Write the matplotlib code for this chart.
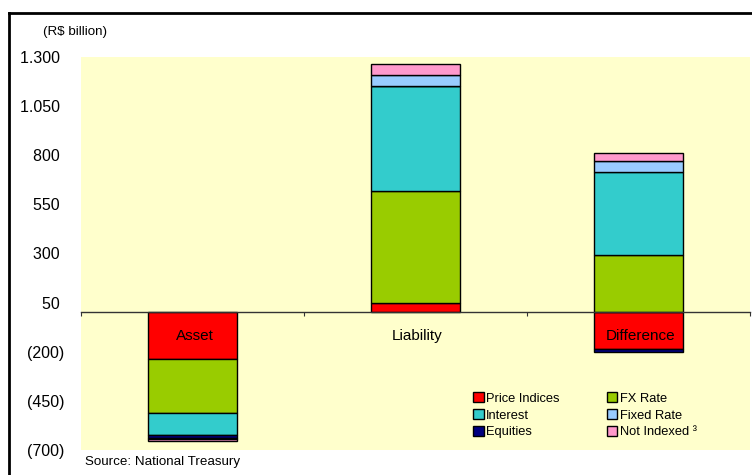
import matplotlib
matplotlib.use("Agg")
import matplotlib.pyplot as plt
from matplotlib.patches import Patch
from matplotlib.lines import Line2D
from matplotlib.transforms import offset_copy
import numpy as np

plt.rcParams["font.family"] = ["Liberation Sans", "DejaVu Sans"]

# ── Data (R$ billion) ──
categories = ["Asset", "Liability", "Difference"]
series_names = ["Price Indices", "FX Rate", "Interest", "Equities", "Fixed Rate", "Not Indexed \u00b3"]
price_indices = [-236, 50, -186]
fx_rate = [-276, 568, 292]
interest = [-112, 536, 424]
equities = [-17, 0, -17]
fixed_rate = [-2, 55, 53]
not_indexed = [-12, 54, 42]
yticks = [1300, 1050, 800, 550, 300, 50, -200, -450, -700]
ytick_labels = ["1.300 ", "1.050 ", "800 ", "550 ", "300 ", "50 ", "(200)", "(450)", "(700)"]

colors = ["#FF0000", "#99CC00", "#33CCCC", "#000080", "#99CCFF", "#FF99CC"]
all_series = [price_indices, fx_rate, interest, equities, fixed_rate, not_indexed]

fig = plt.figure(figsize=(7.52, 4.75), dpi=100)
ax = fig.add_axes([81 / 752, 1 - 450 / 475, 669 / 752, 393 / 475])
ax.set_facecolor("#FFFFCC")

x = np.arange(len(categories))
pos_base = np.zeros(len(categories))
neg_base = np.zeros(len(categories))
for vals, color in zip(all_series, colors):
    vals = np.array(vals, dtype=float)
    base = np.where(vals >= 0, pos_base, neg_base)
    ax.bar(x, vals, bottom=base, width=0.40, color=color,
           edgecolor="black", linewidth=1.0, zorder=2)
    pos_base += np.where(vals >= 0, vals, 0)
    neg_base += np.where(vals < 0, vals, 0)

ax.set_xlim(-0.5, 2.5)
ax.set_ylim(-700, 1300)

# y axis: labels only
ax.set_yticks(yticks)
ax.set_yticklabels(ytick_labels, fontsize=11.5)
ax.tick_params(axis="y", length=0, pad=12)

# x axis along zero line
for s in ["top", "right", "left"]:
    ax.spines[s].set_visible(False)
ax.spines["bottom"].set_position(("data", 0))
ax.spines["bottom"].set_color("#333333")
ax.spines["bottom"].set_linewidth(1.0)
ax.set_xticks([-0.5, 0.5, 1.5, 2.5])
ax.set_xticklabels([])
ax.tick_params(axis="x", length=3, direction="out", color="#333333")

# category labels drawn over the bars
lbl_tr = offset_copy(ax.transData, fig=fig, x=1.5, y=-17, units="points")
for xi, cat in zip(x, categories):
    ax.text(xi, 0, cat, fontsize=11, ha="center", va="center",
            transform=lbl_tr, zorder=5)

# legend
handles = [Patch(facecolor=c, edgecolor="black", linewidth=1.0, label=n)
           for c, n in zip(colors, series_names)]
order = [0, 2, 3, 1, 4, 5]
ax.legend([handles[i] for i in order], [series_names[i] for i in order],
          ncol=2, frameon=False, fontsize=9.3, loc="upper left",
          bbox_to_anchor=(467 / 752, 1 - 386 / 475), bbox_transform=fig.transFigure,
          borderpad=0, handlelength=0.78, handleheight=0.78, handletextpad=0.2,
          labelspacing=0.34, columnspacing=3.7)

fig.text(43 / 752, 1 - 32 / 475, "(R$ billion)", fontsize=9.6, va="center", ha="left")
fig.text(85 / 752, 1 - 462 / 475, "Source: National Treasury", fontsize=9.6, va="center", ha="left")

# outer frame (left and top edges visible)
fig.add_artist(Line2D([8.5 / 752, 8.5 / 752], [0, 1 - 13 / 475], color="black",
                      linewidth=2, transform=fig.transFigure))
fig.add_artist(Line2D([8.5 / 752, 1], [1 - 13 / 475, 1 - 13 / 475], color="black",
                      linewidth=2, transform=fig.transFigure))

fig.savefig("out.png", dpi=100)
